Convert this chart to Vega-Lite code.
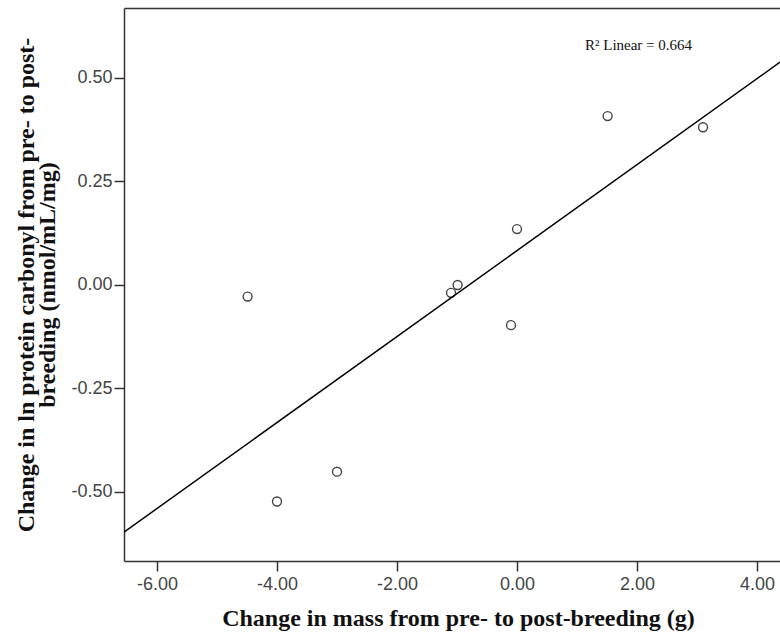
{
  "$schema": "https://vega.github.io/schema/vega-lite/v6.json",
  "autosize": {"type": "none"},
  "padding": {"left": 124, "top": 8, "right": 0, "bottom": 74},
  "width": 656,
  "height": 553,
  "background": "white",
  "config": {
    "view": {"stroke": null},
    "axis": {
      "grid": false,
      "domainColor": "#333333",
      "domainWidth": 1.5,
      "tickColor": "#333333",
      "tickWidth": 1.5,
      "tickSize": 10,
      "labelFont": "Liberation Sans",
      "labelFontSize": 18,
      "labelColor": "#444444",
      "titleFont": "Liberation Serif",
      "titleFontWeight": "bold",
      "titleFontSize": 24,
      "titleColor": "#111111"
    }
  },
  "data": {
    "values": [
      {"mass": -4.49, "carbonyl": -0.028},
      {"mass": -4.0, "carbonyl": -0.523},
      {"mass": -3.0, "carbonyl": -0.451},
      {"mass": -1.1, "carbonyl": -0.019},
      {"mass": -0.99, "carbonyl": 0.0},
      {"mass": -0.1, "carbonyl": -0.097},
      {"mass": 0.0, "carbonyl": 0.135},
      {"mass": 1.51, "carbonyl": 0.408},
      {"mass": 3.1, "carbonyl": 0.381}
    ]
  },
  "resolve": {"axis": {"x": "independent", "y": "independent"}},
  "layer": [
    {
      "mark": {"type": "point", "shape": "circle", "filled": false, "size": 80, "stroke": "#444444", "strokeWidth": 1.4, "opacity": 1},
      "encoding": {
        "x": {
          "field": "mass", "type": "quantitative",
          "scale": {"domain": [-6.55, 4.383], "nice": false, "zero": false},
          "axis": {"values": [-6, -4, -2, 0, 2, 4], "labelExpr": "replace(format(datum.value, '.2f'), '\u2212', '-')", "title": "Change in mass from pre- to post-breeding (g)", "titleX": 334, "titlePadding": 13, "labelPadding": 4}
        },
        "y": {
          "field": "carbonyl", "type": "quantitative",
          "scale": {"domain": [-0.6667, 0.669], "nice": false, "zero": false},
          "axis": {"values": [-0.5, -0.25, 0, 0.25, 0.5], "labelExpr": "replace(format(datum.value, '.2f'), '\u2212', '-')", "title": ["Change in ln protein carbonyl from pre- to post-", "breeding (nmol/mL/mg)"], "titlePadding": 11, "labelPadding": 2, "titleLineHeight": 21}
        }
      }
    },
    {
      "transform": [{"regression": "carbonyl", "on": "mass", "extent": [-6.55, 4.383]}],
      "mark": {"type": "line", "color": "#000000", "strokeWidth": 1.5, "clip": true},
      "encoding": {
        "x": {"field": "mass", "type": "quantitative", "axis": {"orient": "top", "labels": false, "ticks": false, "title": null, "domain": true}},
        "y": {"field": "carbonyl", "type": "quantitative", "axis": null}
      }
    },
    {
      "data": {"values": [{"mass": 2.025, "carbonyl": 0.58, "label": "R² Linear = 0.664"}]},
      "mark": {"type": "text", "font": "Liberation Serif", "fontSize": 15, "color": "#111111", "align": "center", "baseline": "middle"},
      "encoding": {
        "x": {"field": "mass", "type": "quantitative", "axis": null},
        "y": {"field": "carbonyl", "type": "quantitative", "axis": null},
        "text": {"field": "label"}
      }
    }
  ]
}
